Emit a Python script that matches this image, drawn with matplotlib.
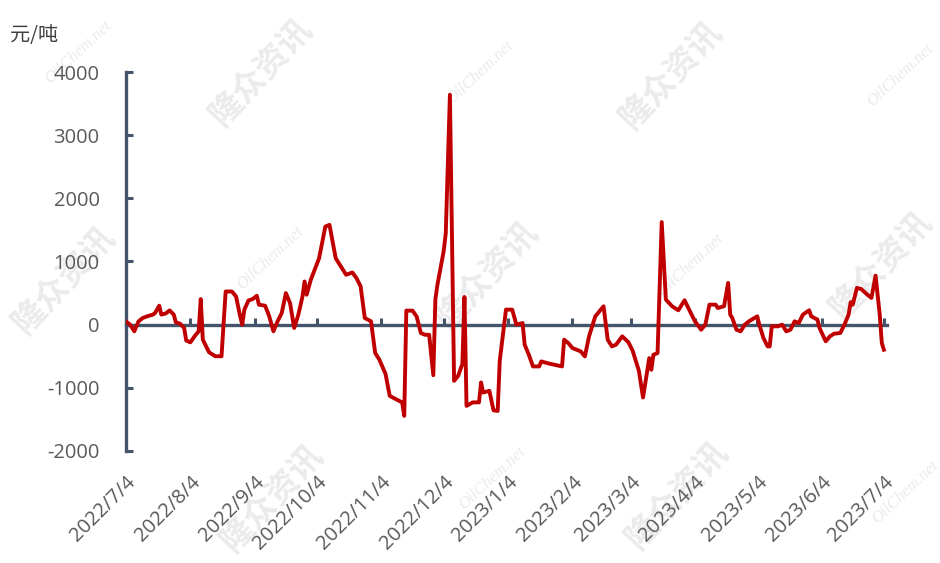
import matplotlib
matplotlib.use("Agg")
import matplotlib.pyplot as plt
import matplotlib.dates as mdates
import pandas as pd

# ---- data ----
dates = [
    "2022-07-04", "2022-07-06", "2022-07-08", "2022-07-10", "2022-07-12", "2022-07-14",
    "2022-07-17", "2022-07-18", "2022-07-20", "2022-07-21", "2022-07-23", "2022-07-25",
    "2022-07-27", "2022-07-28", "2022-07-30", "2022-08-01", "2022-08-02", "2022-08-04",
    "2022-08-06", "2022-08-08", "2022-08-09", "2022-08-10", "2022-08-12", "2022-08-13",
    "2022-08-16", "2022-08-19", "2022-08-21", "2022-08-24", "2022-08-26", "2022-08-28",
    "2022-08-29", "2022-08-30", "2022-09-01", "2022-09-03", "2022-09-05", "2022-09-06",
    "2022-09-09", "2022-09-11", "2022-09-13", "2022-09-15", "2022-09-17", "2022-09-19",
    "2022-09-21", "2022-09-23", "2022-09-25", "2022-09-27", "2022-09-28", "2022-09-29",
    "2022-10-01", "2022-10-05", "2022-10-08", "2022-10-10", "2022-10-13", "2022-10-16",
    "2022-10-18", "2022-10-21", "2022-10-23", "2022-10-25", "2022-10-27", "2022-10-30",
    "2022-11-01", "2022-11-03", "2022-11-06", "2022-11-08", "2022-11-11", "2022-11-14",
    "2022-11-15", "2022-11-16", "2022-11-19", "2022-11-21", "2022-11-23", "2022-11-25",
    "2022-11-27", "2022-11-29", "2022-11-30", "2022-12-01", "2022-12-04", "2022-12-05",
    "2022-12-07", "2022-12-09", "2022-12-11", "2022-12-13", "2022-12-14", "2022-12-15",
    "2022-12-18", "2022-12-21", "2022-12-22", "2022-12-23", "2022-12-26", "2022-12-28",
    "2022-12-30", "2022-12-31", "2023-01-03", "2023-01-06", "2023-01-08", "2023-01-11",
    "2023-01-12", "2023-01-14", "2023-01-16", "2023-01-19", "2023-01-20", "2023-01-24",
    "2023-01-30", "2023-01-31", "2023-02-02", "2023-02-04", "2023-02-08", "2023-02-10",
    "2023-02-12", "2023-02-15", "2023-02-19", "2023-02-21", "2023-02-23", "2023-02-25",
    "2023-02-28", "2023-03-03", "2023-03-05", "2023-03-08", "2023-03-10", "2023-03-12",
    "2023-03-13", "2023-03-14", "2023-03-15", "2023-03-17", "2023-03-19", "2023-03-21",
    "2023-03-24", "2023-03-27", "2023-03-30", "2023-04-02", "2023-04-04", "2023-04-07",
    "2023-04-09", "2023-04-11", "2023-04-14", "2023-04-15", "2023-04-18", "2023-04-20",
    "2023-04-21", "2023-04-22", "2023-04-24", "2023-04-26", "2023-04-28", "2023-04-30",
    "2023-05-04", "2023-05-05", "2023-05-07", "2023-05-09", "2023-05-10", "2023-05-11",
    "2023-05-14", "2023-05-16", "2023-05-18", "2023-05-20", "2023-05-22", "2023-05-24",
    "2023-05-26", "2023-05-29", "2023-05-30", "2023-06-02", "2023-06-03", "2023-06-06",
    "2023-06-08", "2023-06-10", "2023-06-13", "2023-06-15", "2023-06-17", "2023-06-18",
    "2023-06-19", "2023-06-21", "2023-06-23", "2023-06-26", "2023-06-28", "2023-06-30",
    "2023-07-02", "2023-07-03", "2023-07-04",
]
values = [
    50, 0, -105, 50, 105, 130,
    160, 185, 300, 160, 175, 225,
    160, 37, 16, -53, -250, -280,
    -185, -105, 405, -237, -370, -437,
    -500, -500, 525, 525, 447, 130,
    0, 237, 384, 405, 458, 316,
    300, 130, -105, 53, 184, 500,
    342, -53, 158, 447, 684, 474,
    710, 1052, 1553, 1580, 1052, 895,
    790, 826, 737, 605, 105, 53,
    -447, -553, -780, -1127, -1180, -1230,
    -1444, 222, 222, 127, -133, -160,
    -160, -800, 400, 634, 1164, 1449,
    3640, -889, -809, -620, 438, -1286,
    -1230, -1230, -915, -1074, -1048, -1356,
    -1366, -572, 238, 238, 0, 26,
    -317, -476, -661, -661, -582, -618,
    -661, -238, -291, -370, -423, -503,
    -185, 132, 291, -238, -344, -317,
    -185, -280, -413, -730, -1153, -740,
    -530, -714, -476, -450, 1624, 397,
    291, 228, 386, 185, 53, -80,
    0, 317, 317, 264, 291, 661,
    159, 106, -80, -106, 0, 53,
    132, 0, -212, -344, -344, -26,
    -26, 0, -106, -80, 53, 26,
    159, 228, 132, 80, -53, -264,
    -185, -143, -132, 0, 159, 355,
    317, 582, 566, 476, 423, 776,
    159, -291, -397,
]
tick_labels = ["2022/7/4", "2022/8/4", "2022/9/4", "2022/10/4", "2022/11/4", "2022/12/4",
               "2023/1/4", "2023/2/4", "2023/3/4", "2023/4/4", "2023/5/4", "2023/6/4",
               "2023/7/4"]
y_ticks = [-2000, -1000, 0, 1000, 2000, 3000, 4000]
unit_label = "元/吨"

# ---- styling ----
W, H = 940, 563
axis_color = "#44546A"
text_color = "#595959"
line_color = "#C00000"
wm_color = "#EBEBEB"

fig = plt.figure(figsize=(W / 100, H / 100), dpi=100)
fig.patch.set_facecolor("white")

# watermarks (figure-pixel centres), drawn beneath the axes
wm_cn = [(262, 72), (672, 75), (65, 280), (488, 275), (882, 265), (273, 498), (678, 495)]
wm_en = [(78, 52), (480, 72), (900, 75), (270, 258), (690, 265), (492, 478), (905, 492)]
for (px, py) in wm_cn:
    fig.text(px / W, 1 - py / H, "隆众资讯", rotation=47, ha="center", va="center",
             fontsize=24, fontweight="bold", color=wm_color,
             family=["Noto Sans CJK SC", "DejaVu Sans"], zorder=-5)
for (px, py) in wm_en:
    fig.text(px / W, 1 - py / H, "OilChem.net", rotation=43, ha="center", va="center",
             fontsize=12, fontstyle="italic", color=wm_color,
             family=["Liberation Serif", "DejaVu Serif"], zorder=-5)

ax = fig.add_axes([126 / W, 1 - 451 / H, (887 - 126) / W, (451 - 72) / H])
ax.set_facecolor("none")
ax.set_zorder(1)

x = mdates.date2num(pd.to_datetime(dates))
tick_x = mdates.date2num(pd.to_datetime(tick_labels, format="%Y/%m/%d"))

ax.plot(x, values, color=line_color, lw=2.8, solid_joinstyle="round", zorder=3)

ax.set_ylim(-2000, 4000)
ax.set_yticks(y_ticks)
ax.set_yticklabels([str(v) for v in y_ticks], family=["Open Sans", "DejaVu Sans"])
ax.set_xlim(tick_x[0], tick_x[-1] + 1.5)
ax.set_xticks(tick_x)

ax.tick_params(axis="x", direction="in", length=5, width=2.2, color=axis_color,
               labelbottom=False)
ax.tick_params(axis="y", direction="in", length=5, width=2.2, color=axis_color,
               labelsize=14.5, labelcolor=text_color, pad=19)

for s in ["top", "right"]:
    ax.spines[s].set_visible(False)
ax.spines["bottom"].set_position(("data", 0))
for s in ["bottom", "left"]:
    ax.spines[s].set_color(axis_color)
    ax.spines[s].set_linewidth(2.4)

sec = ax.secondary_xaxis("bottom")
sec.set_xticks(tick_x)
sec.set_xticklabels(tick_labels, family=["Open Sans", "DejaVu Sans"])
sec.tick_params(length=0, pad=15, labelsize=14.5, labelcolor=text_color)
for lab in sec.get_xticklabels():
    lab.set_rotation(45)
    lab.set_ha("right")
    lab.set_va("top")
    lab.set_rotation_mode("anchor")
sec.spines["bottom"].set_visible(False)

fig.text(10 / W, 1 - 36 / H, unit_label, ha="left", va="center", fontsize=14.5,
         color="#404040", family=["Noto Sans CJK SC", "DejaVu Sans"])

fig.savefig("out.png", dpi=100, facecolor="white")
